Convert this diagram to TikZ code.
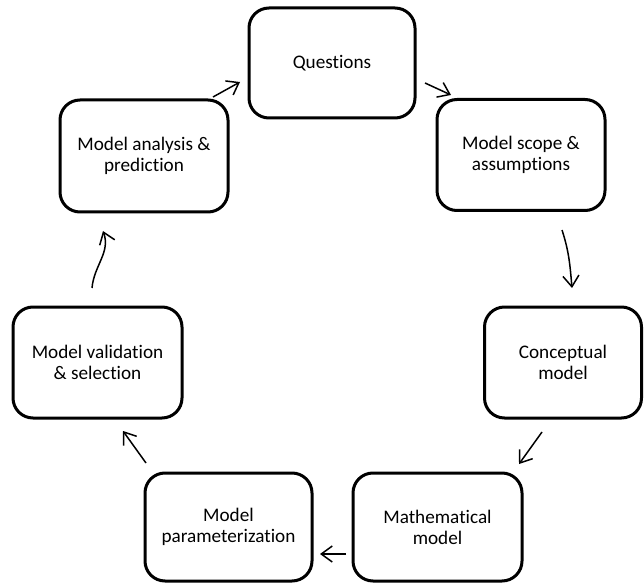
\documentclass[tikz,border=0pt]{standalone}
\usepackage{fontspec}
\setmainfont{Carlito}[Ligatures=NoCommon]
\usetikzlibrary{arrows.meta}
\begin{document}
\begin{tikzpicture}[x=1pt,y=1pt,
  stage/.style={draw=black, line width=3pt, rounded corners=20pt,
    align=center, inner sep=0pt,
    font=\fontsize{19.2}{21}\selectfont, text=black},
  flow/.style={line width=1.5pt,
    -{Straight Barb[length=11pt,width=16pt,line width=1.5pt]}}]
\useasboundingbox (0,0) rectangle (644,584);

% modelling cycle stages
\node[stage, minimum width=166pt, minimum height=110pt] (q)     at (332,521)   {Questions};
\node[stage, minimum width=168pt, minimum height=111pt] (scope) at (521,429)   {Model scope \&\\assumptions};
\node[stage, minimum width=157pt, minimum height=111pt] (conc)  at (563,221.5) {Conceptual\\model};
\node[stage, minimum width=169pt, minimum height=108pt] (math)  at (437.5,57)  {Mathematical\\model};
\node[stage, minimum width=167pt, minimum height=108pt] (par)   at (228.5,57)  {Model\\parameterization};
\node[stage, minimum width=169pt, minimum height=111pt] (val)   at (97.5,221.5){Model validation\\\& selection};
\node[stage, minimum width=168pt, minimum height=112pt] (ana)   at (144,428)   {Model analysis \&\\prediction};

% arrow end points between neighbouring stages
\coordinate (a1s) at (213,487); \coordinate (a1e) at (240,502);
\coordinate (a2s) at (425,501); \coordinate (a2e) at (451,489);
\coordinate (a3s) at (562,354); \coordinate (a3e) at (572,296);
\coordinate (a4s) at (542,152); \coordinate (a4e) at (519,120);
\coordinate (a5s) at (346,30);  \coordinate (a5e) at (320,30);
\coordinate (a6s) at (146,121); \coordinate (a6e) at (123,153);
\coordinate (a7s) at (92,296);  \coordinate (a7e) at (103,353);

\draw[flow] (a1s) -- (a1e);
\draw[flow] (a2s) -- (a2e);
\draw[flow] (a3s) to[out=-72,in=95] (a3e);
\draw[flow] (a4s) -- (a4e);
\draw[flow] (a5s) -- (a5e);
\draw[flow] (a6s) -- (a6e);
\draw[flow] (a7s) to[out=85,in=-70] (a7e);
\end{tikzpicture}
\end{document}
